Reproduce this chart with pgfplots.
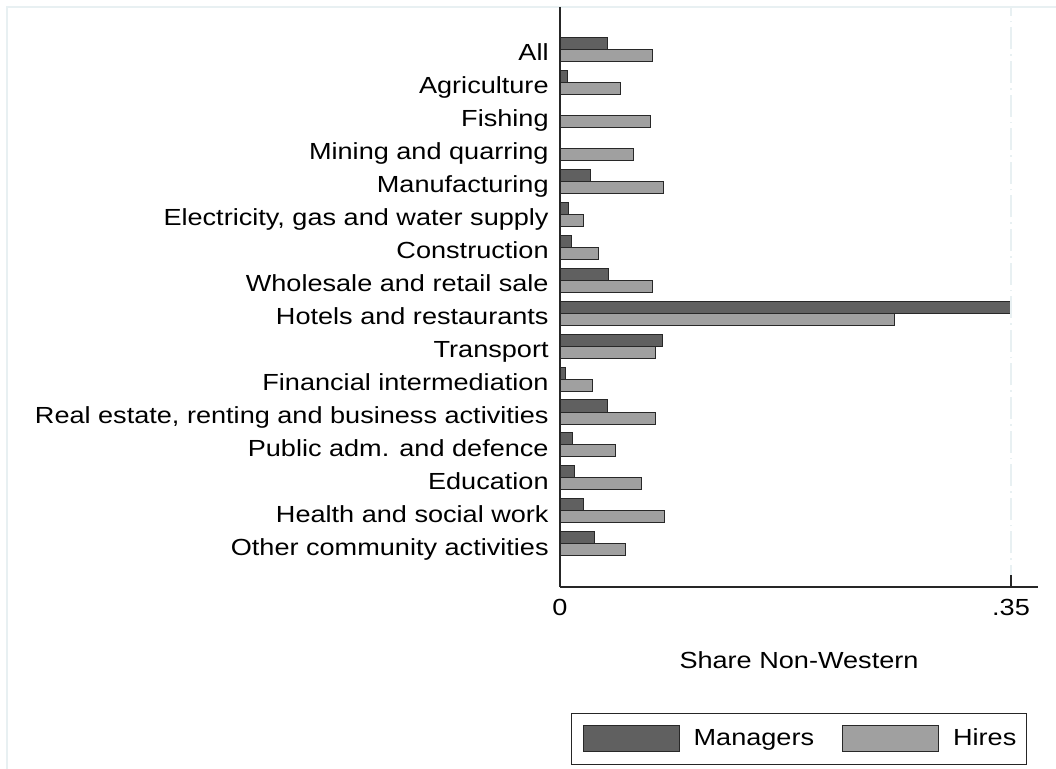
\documentclass[border=0pt]{standalone}
\usepackage{pgfplots}
\pgfplotsset{compat=1.18}
\usepackage{pgfplotstable}
\usepackage{fontspec}
\setmainfont{Liberation Sans}[FakeStretch=1.163]
\definecolor{mgr}{RGB}{96,96,96}
\definecolor{hir}{RGB}{160,160,160}
\definecolor{edge}{RGB}{40,40,40}
\definecolor{faint}{RGB}{232,240,242}
\pgfplotstableread{
y man hir
16 0.0367 0.0719
15 0.0057 0.0468
14 0.0000 0.0700
13 0.0000 0.0574
12 0.0235 0.0800
11 0.0065 0.0186
10 0.0088 0.0297
9  0.0380 0.0719
8  0.3495 0.2595
7  0.0794 0.0742
6  0.0041 0.0251
5  0.0370 0.0745
4  0.0096 0.0429
3  0.0111 0.0636
2  0.0186 0.0810
1  0.0269 0.0510
}\datatable
\begin{document}
\fontsize{11.65}{14}\selectfont
\begin{tikzpicture}
\useasboundingbox (0,0) rectangle (528pt,-384.5pt);
\draw[faint, line width=0.6pt] (3.5pt,-384.5pt) -- (3.5pt,-3.5pt) -- (528pt,-3.5pt);
\begin{axis}[
  at={(280pt,-293.5pt)}, anchor=south west,
  scale only axis, width=239pt, height=290pt,
  xmin=0, xmax=0.37095, ymin=-0.303, ymax=17.273,
  axis on top,
  axis x line*=bottom, axis y line*=left,
  axis line style={line width=0.6pt, draw=black!85},
  xtick={0,0.35}, xticklabels={0,.35},
  ytick={1,...,16},
  yticklabels={Other community activities, Health and social work, Education, Public adm. and defence, {Real estate, renting and business activities}, Financial intermediation, Transport, Hotels and restaurants, Wholesale and retail sale, Construction, {Electricity, gas and water supply}, Manufacturing, Mining and quarring, Fishing, Agriculture, All},
  tick style={draw=black!85, line width=0.6pt},
  xtick align=inside, ytick align=inside, major tick length=6pt,
  ytick style={draw=none},
  tick label style={font=\fontsize{11.65}{14}\selectfont},
  yticklabel style={anchor=base east, inner sep=0pt, xshift=0.5pt, yshift=-5.6pt},
  xticklabel style={anchor=north, inner sep=0pt, yshift=-5.8pt},
  xlabel={Share Non-Western},
  xlabel style={at={(axis description cs:0.5,-0.1259)}, anchor=center, font=\fontsize{11.65}{14}\selectfont},
  xbar, bar width=6pt,
  legend columns=2,
  legend style={at={(axis description cs:0.5,-0.262)}, anchor=center, draw=black!85, line width=0.5pt,
    font=\fontsize{11.65}{14}\selectfont, inner xsep=3pt, inner ysep=5.75pt,
    /tikz/every odd column/.append style={column sep=5pt},
    /tikz/every even column/.append style={column sep=9.5pt}},
  legend image code/.code={\path (0pt,0pt); \draw[#1, line width=0.5pt] (2.5pt,-6.5pt) rectangle (50.5pt,6.5pt);},
  clip=false,
]
\addplot[xbar, bar shift=3pt, fill=mgr, draw=edge, line width=0.5pt] table[x=man, y=y] {\datatable};
\addplot[xbar, bar shift=-3pt, fill=hir, draw=edge, line width=0.5pt] table[x=hir, y=y] {\datatable};
\addplot[sharp plot, draw=faint, line width=1pt, dash pattern=on 11pt off 2.5pt on 0.8pt off 2.5pt, forget plot] coordinates {(0.35,-0.303) (0.35,17.273)};
\legend{Managers, Hires}
\end{axis}
\end{tikzpicture}
\end{document}
